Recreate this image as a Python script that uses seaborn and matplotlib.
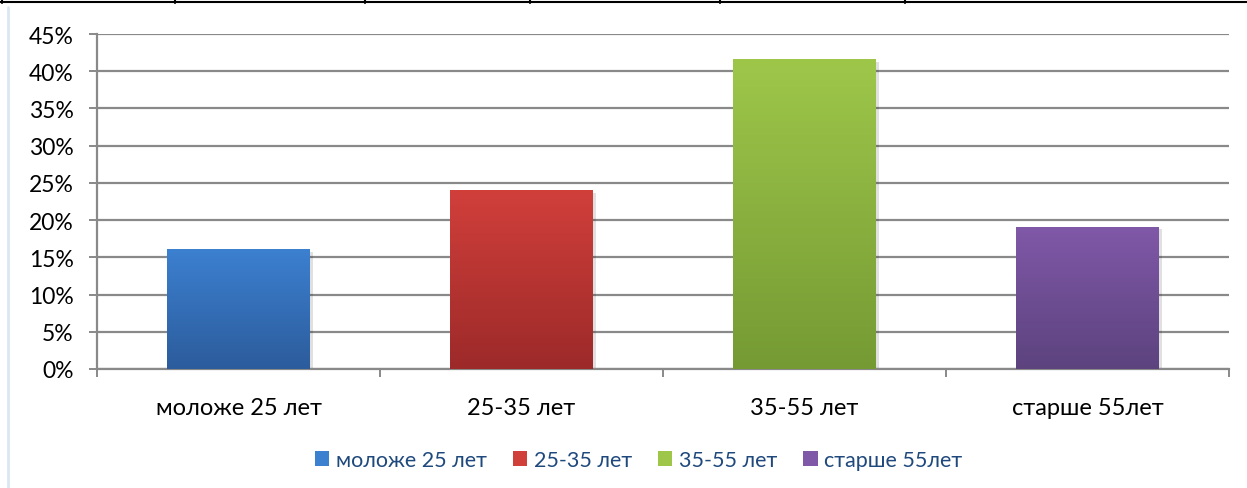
import numpy as np
import pandas as pd
import matplotlib
matplotlib.use("Agg")
import matplotlib.pyplot as plt
import matplotlib.patches as mpatches
from matplotlib.lines import Line2D
from matplotlib.colors import LinearSegmentedColormap
from matplotlib.ticker import PercentFormatter
import seaborn as sns

# ---- data ----
categories = ["моложе 25 лет", "25-35 лет", "35-55 лет", "старше 55лет"]
shares = [16.1, 24.0, 41.6, 19.1]
top_colors = ["#3C80D0", "#D13F3B", "#9EC74A", "#8058A8"]
bottom_colors = ["#2C5C9C", "#9C2A29", "#759A34", "#5C437E"]
y_ticks = [0, 5, 10, 15, 20, 25, 30, 35, 40, 45]

sns.set_theme(style="white")
plt.rcParams["font.family"] = ["Lato", "Noto Sans", "DejaVu Sans"]

df = pd.DataFrame({"cat": categories, "val": shares})

fig = plt.figure(figsize=(12.47, 4.89), dpi=100)
ax = fig.add_axes([97 / 1247, 1 - 370 / 489, (1229 - 97) / 1247, (370 - 35) / 489])

sns.barplot(data=df, x="cat", y="val", hue="cat", palette=top_colors,
            width=0.505, legend=False, ax=ax, saturation=1, zorder=3)

ax.set_xlim(-0.5, 3.5)
ax.set_ylim(0, 45)
ax.set_yticks(y_ticks)
ax.yaxis.set_major_formatter(PercentFormatter(decimals=0))
ax.set_xlabel("")
ax.set_ylabel("")

# gridlines
grid_c = "#898989"
ax.yaxis.grid(True, color=grid_c, linewidth=1.6, zorder=0)
ax.set_axisbelow(True)
for s in ["top", "right"]:
    ax.spines[s].set_visible(False)
for s in ["left", "bottom"]:
    ax.spines[s].set_color(grid_c)
    ax.spines[s].set_linewidth(1.6)

ax.tick_params(axis="y", which="major", left=True, length=5.8, width=1.4,
               color=grid_c, labelsize=16.5, labelcolor="#000000", pad=11)
ax.tick_params(axis="x", which="major", bottom=False, labelsize=17,
               labelcolor="#000000", pad=14)
ax.set_xticks(np.arange(-0.5, 4.0, 1.0), minor=True)
ax.tick_params(axis="x", which="minor", bottom=True, length=5.8, width=1.4,
               color=grid_c)

# gradient fill + soft shadow for bars
for i, p in enumerate(ax.patches):
    x0, y0 = p.get_x(), p.get_y()
    w, h = p.get_width(), p.get_height()
    shadow = mpatches.Rectangle((x0 + 0.012, y0), w, h - 0.35,
                                facecolor="#000000", alpha=0.12,
                                edgecolor="none", zorder=2.5)
    ax.add_patch(shadow)
    cmap = LinearSegmentedColormap.from_list(
        f"g{i}", [bottom_colors[i % 4], top_colors[i % 4]])
    grad = np.linspace(0, 1, 256).reshape(-1, 1)
    im = ax.imshow(grad, cmap=cmap, aspect="auto", origin="lower",
                   extent=[x0, x0 + w, y0, y0 + h], zorder=3.5)
    im.set_clip_path(p)
    p.set_edgecolor("none")

ax.set_xlim(-0.5, 3.5)
ax.set_ylim(0, 45)

# legend
handles = [mpatches.Rectangle((0, 0), 1, 1, facecolor=c, edgecolor="none")
           for c in top_colors]
leg = fig.legend(handles, categories, loc="center", ncol=4,
                 bbox_to_anchor=(0.512, 1 - 461 / 489), frameon=False,
                 fontsize=15.5, handlelength=0.68, handleheight=0.68,
                 handletextpad=0.3, columnspacing=1.2)
for t in leg.get_texts():
    t.set_color("#1F497D")

# surrounding page decorations (table border above, frame at left)
fig.add_artist(Line2D([0, 1], [1 - 3 / 489, 1 - 3 / 489],
                      transform=fig.transFigure, color="black", linewidth=1.5))
for xv in [2, 175, 365, 530, 720, 905]:
    fig.add_artist(Line2D([xv / 1247, xv / 1247], [1, 1 - 4 / 489],
                          transform=fig.transFigure, color="black", linewidth=1.5))
fig.add_artist(Line2D([8 / 1247, 8 / 1247], [0, 1 - 8 / 489],
                      transform=fig.transFigure, color="#DCE6F2", linewidth=2))

fig.savefig("out.png", dpi=100)
